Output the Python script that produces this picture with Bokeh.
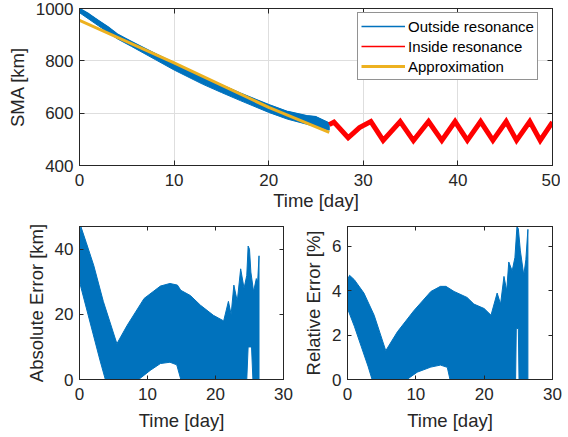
from bokeh.plotting import figure
from bokeh.models import Range1d, FixedTicker, LinearAxis, Legend, LegendItem
from bokeh.layouts import column, row
from bokeh.embed import file_html
from bokeh.resources import INLINE

BLUE = "#0072BD"
RED = "#FF0000"
YEL = "#EDB120"
AX = "#262626"
GRID = "#DEDEDE"
FONT = "Liberation Sans"
TICK_FS = "17px"
LAB_FS = "18.5px"

# ---------------- data ----------------
# Top panel: SMA outside resonance (band envelope of fast oscillation)
t_out = [0, 1, 2, 3, 4, 5.5, 8, 10, 13, 15, 17, 20, 22, 24, 25, 26.4]
sma_out_upper = [1000, 979, 954, 930, 902, 873, 827, 792, 738, 708, 676, 632, 606, 590, 586, 562]
sma_out_lower = [984, 959, 934, 909, 884, 855, 805, 765, 711, 679, 648, 603, 577, 558, 548, 535]

# Top panel: SMA inside resonance (zig-zag)
t_in = [26.4, 26.9, 28.4, 29.6, 30.8, 32.1, 33.9, 35.3, 36.9, 38.3, 39.7, 41.0,
        42.4, 43.7, 45.1, 46.2, 47.6, 48.7, 50.0]
sma_in = [556, 566, 506, 545, 568, 496, 568, 495, 568, 496, 568, 496,
          568, 496, 568, 496, 568, 496, 566]

# Top panel: approximation
t_apx = [0, 10, 20, 26.4]
sma_apx = [955, 792, 622, 527]

# Bottom left: absolute error [km] envelope
t_abs_up = [0, 0.2, 1, 2.1, 3.5, 5.5, 7.0, 9.5, 11.9, 13.3, 14.4, 14.9, 16.3, 17.8,
            19.7, 21.2, 21.9, 22.3, 22.7, 23.2, 23.7, 24.2, 24.6, 24.8, 25.0, 25.2,
            25.6, 26.0, 26.2, 26.4]
abs_up = [44, 47, 42, 35, 24, 11, 16.6, 24.9, 28.7, 29.5, 29, 27.4, 25.8, 22.8,
          19.7, 18, 24, 20, 29, 24, 34, 28, 32, 41, 40, 33,
          27, 31, 30, 38]
t_abs_lo = [0, 1, 2, 3, 3.8, 8.7, 10.4, 11.9, 13.3, 14.3, 14.9, 24.6, 24.8, 25.3, 25.5, 26.4]
abs_lo = [30, 22, 14, 6, 0, 0, 2.8, 4.9, 5.3, 4.5, 0, 0, 10, 10, 0, 0]

# Bottom right: relative error [%] envelope
t_rel_up = [0, 0.3, 1, 2.4, 3.9, 5.6, 7.3, 9.7, 12.2, 13.6, 14.4, 15.6, 17.5, 18.5,
            20.0, 21.0, 21.9, 22.4, 22.9, 23.3, 23.6, 24.1, 24.5, 24.8, 25.0, 25.3,
            25.8, 26.1, 26.4]
rel_up = [4.5, 4.7, 4.5, 3.9, 2.9, 1.3, 2.15, 3.1, 3.97, 4.2, 4.2, 3.97, 3.7, 3.4,
          3.2, 2.9, 3.9, 3.4, 4.65, 4.0, 5.3, 4.9, 5.5, 6.9, 6.8, 5.8,
          4.7, 5.4, 6.77]
t_rel_lo = [0, 1, 2, 3, 3.6, 8.7, 10.2, 12.2, 13.6, 14.6, 15.0, 24.6, 24.7, 25.0, 25.1, 26.4]
rel_lo = [3.2, 2.4, 1.5, 0.6, 0, 0, 0.33, 0.56, 0.65, 0.55, 0, 0, 2.3, 2.3, 0, 0]

top_xticks = [0, 10, 20, 30, 40, 50]
top_yticks = [400, 600, 800, 1000]
bot_xticks = [0, 10, 20, 30]
abs_yticks = [0, 20, 40]
rel_yticks = [0, 2, 4, 6]

labels = ["Outside resonance", "Inside resonance", "Approximation"]


def style(p, xt, yt, grid, tick_len, xlabel, ylabel, xlab_standoff):
    p.outline_line_color = AX
    p.outline_line_width = 1
    p.background_fill_color = "white"
    p.border_fill_color = "white"
    p.below[0].axis_label = xlabel
    p.left[0].axis_label = ylabel
    for ax in p.xaxis + p.yaxis:
        ax.axis_line_color = AX
        ax.major_tick_line_color = AX
        ax.major_tick_in = tick_len
        ax.major_tick_out = 0
        ax.minor_tick_line_color = None
        ax.major_label_text_font = FONT
        ax.major_label_text_font_size = TICK_FS
        ax.major_label_text_color = AX
        ax.axis_label_text_font = FONT
        ax.axis_label_text_font_size = LAB_FS
        ax.axis_label_text_font_style = "normal"
        ax.axis_label_text_color = AX
    p.xaxis.ticker = FixedTicker(ticks=xt)
    p.yaxis.ticker = FixedTicker(ticks=yt)
    p.xaxis.major_label_standoff = 8
    p.yaxis.major_label_standoff = 6
    p.xaxis.axis_label_standoff = xlab_standoff
    p.yaxis.axis_label_standoff = 5
    # box ticks on top and right, without labels
    for loc, ticks in (("above", xt), ("right", yt)):
        a = LinearAxis(ticker=FixedTicker(ticks=ticks), major_label_text_font_size="1px",
                       major_label_text_color=None,
                       major_label_standoff=0, major_tick_in=tick_len, major_tick_out=0,
                       minor_tick_line_color=None, axis_line_color=AX,
                       major_tick_line_color=AX)
        p.add_layout(a, loc)
    if grid:
        p.xgrid.ticker = FixedTicker(ticks=xt)
        p.ygrid.ticker = FixedTicker(ticks=yt)
        p.grid.grid_line_color = GRID
        p.grid.grid_line_width = 1
    else:
        p.grid.visible = False


# ---------------- top panel ----------------
top = figure(width=560, height=218, x_range=Range1d(0, 50), y_range=Range1d(400, 1000),
             output_backend="svg", toolbar_location=None,
             min_border_left=79, min_border_right=8, min_border_top=8, min_border_bottom=53)
style(top, top_xticks, top_yticks, True, 5, "Time [day]", "SMA [km]", 1)

top.patch(x=t_out + t_out[::-1], y=sma_out_upper + sma_out_lower[::-1],
          fill_color=BLUE, line_color=BLUE, line_width=1)
r_out = top.line(t_out, sma_out_upper, line_color=BLUE, line_width=1.5)
top.line(t_in, sma_in, line_color=RED, line_width=5, line_join="miter")
r_in = top.line(t_in, sma_in, line_color=RED, line_width=1.5)
r_apx = top.line(t_apx, sma_apx, line_color=YEL, line_width=3)

legend = Legend(items=[LegendItem(label=labels[0], renderers=[r_out]),
                       LegendItem(label=labels[1], renderers=[r_in]),
                       LegendItem(label=labels[2], renderers=[r_apx])],
                location=(278, 85), orientation="vertical",
                label_text_font=FONT, label_text_font_size="15px", label_text_color="black",
                glyph_width=44, glyph_height=20, label_height=20, label_standoff=3,
                spacing=0, padding=3, margin=0,
                border_line_color=AX, border_line_width=1, background_fill_alpha=1)
top.add_layout(legend, "center")

# ---------------- bottom left ----------------
bl = figure(width=293, height=219, x_range=Range1d(0, 30), y_range=Range1d(0, 47),
            output_backend="svg", toolbar_location=None,
            min_border_left=79, min_border_right=10, min_border_top=8, min_border_bottom=58)
style(bl, bot_xticks, abs_yticks, False, 4, "Time [day]", "Absolute Error [km]", 7)
bl.patch(x=t_abs_up + t_abs_lo[::-1], y=abs_up + abs_lo[::-1],
         fill_color=BLUE, line_color=BLUE, line_width=1)

# ---------------- bottom right ----------------
br = figure(width=269, height=219, x_range=Range1d(0, 30), y_range=Range1d(0, 6.9),
            output_backend="svg", toolbar_location=None,
            min_border_left=54, min_border_right=10, min_border_top=8, min_border_bottom=58)
style(br, bot_xticks, rel_yticks, False, 4, "Time [day]", "Relative Error [%]", 7)
br.patch(x=t_rel_up + t_rel_lo[::-1], y=rel_up + rel_lo[::-1],
         fill_color=BLUE, line_color=BLUE, line_width=1)

layout = column(top, row(bl, br))
open("out.html", "w").write(file_html(layout, INLINE))
